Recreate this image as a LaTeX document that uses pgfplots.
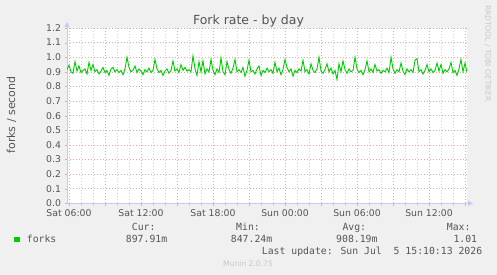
\documentclass[border=0pt]{standalone}
\usepackage{fontspec}
\setmainfont{DejaVu Sans}
\newfontfamily\monofont{DejaVu Sans Mono}
\usepackage{pgfplots}
\pgfplotsset{compat=1.18}
\usetikzlibrary{arrows.meta}
\definecolor{bgc}{HTML}{F0F0F0}
\definecolor{txt}{HTML}{555555}
\definecolor{mgrid}{HTML}{E6A8A8}
\definecolor{ngrid}{HTML}{D0D0D0}
\definecolor{axc}{HTML}{C8C8F4}
\definecolor{lgreen}{HTML}{00CC00}
\definecolor{wm}{HTML}{C8C8C8}
\begin{document}
\begin{tikzpicture}[x=1pt,y=1pt]
\fill[bgc] (0,0) rectangle (497,275);
\path[use as bounding box] (0,0) rectangle (497,275);
\begin{axis}[at={(67pt,71.7pt)}, anchor=south west, scale only axis,
  width=400pt, height=175.3pt,
  xmin=35, xmax=235, ymin=0, ymax=1.2, enlargelimits=false,
  axis background/.style={fill=white},
  axis lines=left,
  axis line style={draw=axc, line width=0.8pt, -{Triangle[length=5pt,width=5pt]}, shorten >=-6pt},
  xtick={36,54,...,234},
  xticklabels={Sat 06:00,,Sat 12:00,,Sat 18:00,,Sun 00:00,,Sun 06:00,,Sun 12:00,},
  minor x tick num=2,
  ytick={0,0.1,0.2,0.3,0.4,0.5,0.6,0.7,0.8,0.9,1.0,1.1,1.2},
  yticklabel={\pgfmathprintnumber[fixed,fixed zerofill,precision=1]{\tick}},
  /pgf/number format/assume math mode=true,
  xmajorgrids, ymajorgrids, xminorgrids,
  major grid style={draw=mgrid, dash pattern=on 1pt off 2pt, line width=0.6pt},
  minor grid style={draw=ngrid, dash pattern=on 1pt off 2pt, line width=0.6pt},
  tick align=outside, major tick length=2.5pt, minor tick length=2.5pt,
  every major tick/.append style={draw=mgrid},
  every minor tick/.append style={draw=ngrid},
  ticklabel style={font=\fontsize{9.3}{11}\selectfont, text=txt},
]
\addplot[lgreen, line width=0.9pt] coordinates {
(35,0.915)(36,0.945)(37,0.900)(38,0.890)(39,0.970)(40,0.905)(41,0.940)(42,0.895)(43,0.910)(44,0.920)
(45,0.885)(46,0.965)(47,0.910)(48,0.950)(49,0.900)(50,0.915)(51,0.885)(52,0.905)(53,0.930)(54,0.895)
(55,0.910)(56,0.875)(57,0.920)(58,0.930)(59,0.900)(60,0.915)(61,0.895)(62,0.910)(63,0.880)(64,0.920)
(65,1.000)(66,0.930)(67,0.900)(68,0.910)(69,0.940)(70,0.895)(71,0.920)(72,0.905)(73,0.880)(74,0.915)
(75,0.900)(76,0.925)(77,0.895)(78,0.910)(79,0.985)(80,0.920)(81,0.895)(82,0.910)(83,0.875)(84,0.905)
(85,0.920)(86,0.890)(87,0.910)(88,0.975)(89,0.905)(90,0.920)(91,0.895)(92,0.950)(93,0.910)(94,0.930)
(95,0.905)(96,0.915)(97,0.900)(98,1.010)(99,0.920)(100,0.875)(101,0.970)(102,0.900)(103,0.975)(104,0.885)
(105,0.920)(106,0.900)(107,0.985)(108,0.910)(109,0.880)(110,0.920)(111,0.895)(112,0.995)(113,0.900)(114,0.880)
(115,0.970)(116,0.915)(117,0.890)(118,0.925)(119,0.985)(120,0.900)(121,0.915)(122,0.895)(123,0.930)(124,0.870)
(125,0.910)(126,0.980)(127,0.900)(128,0.910)(129,0.885)(130,0.920)(131,0.940)(132,0.875)(133,0.910)(134,0.895)
(135,0.925)(136,0.900)(137,0.915)(138,0.890)(139,0.965)(140,0.900)(141,0.925)(142,0.880)(143,0.915)(144,0.985)
(145,0.930)(146,0.900)(147,0.920)(148,0.870)(149,0.910)(150,0.895)(151,0.920)(152,0.905)(153,0.980)(154,0.900)
(155,0.915)(156,0.885)(157,0.955)(158,0.910)(159,0.895)(160,0.920)(161,1.000)(162,0.905)(163,0.890)(164,0.915)
(165,0.955)(166,0.900)(167,0.925)(168,0.885)(169,0.910)(170,0.847)(171,0.955)(172,0.900)(173,0.975)(174,0.915)
(175,0.890)(176,0.920)(177,0.900)(178,0.910)(179,1.000)(180,0.920)(181,0.895)(182,0.910)(183,0.880)(184,0.915)
(185,0.975)(186,0.900)(187,0.920)(188,0.895)(189,0.950)(190,0.905)(191,0.915)(192,0.890)(193,0.910)(194,0.900)
(195,0.925)(196,0.895)(197,1.000)(198,0.920)(199,0.890)(200,0.915)(201,0.900)(202,0.960)(203,0.905)(204,0.880)
(205,0.920)(206,0.900)(207,0.915)(208,0.895)(209,0.980)(210,0.990)(211,0.900)(212,0.915)(213,0.885)(214,0.910)
(215,0.950)(216,0.900)(217,0.920)(218,0.895)(219,0.910)(220,0.960)(221,0.905)(222,0.950)(223,0.890)(224,0.915)
(225,0.900)(226,0.920)(227,0.965)(228,0.895)(229,0.910)(230,0.875)(231,0.920)(232,0.985)(233,0.900)(234,0.960)
(235,0.898)
};
\end{axis}
\node[inner sep=0, anchor=base, font=\fontsize{12.5}{14}\selectfont, text=txt] at (248.5,250) {Fork rate - by day};
\node[inner sep=0, anchor=base, rotate=90, font=\fontsize{11}{13}\selectfont, text=txt] at (15,160) {forks / second};
\begin{scope}[every node/.style={inner sep=0, anchor=base west, font=\monofont\fontsize{9.8}{11}\selectfont, text=txt}]
\node at (131.7,44.3) {Cur:};
\node at (236,44.3) {Min:};
\node at (342.3,44.3) {Avg:};
\node at (446.7,44.3) {Max:};
\node at (26.7,32.3) {forks};
\node at (125.7,32.3) {897.91m};
\node at (230.7,32.3) {847.24m};
\node at (336,32.3) {908.19m};
\node at (453.3,32.3) {1.01};
\node at (261.7,20) {Last update: Sun Jul\ \ 5 15:10:13 2026};
\end{scope}
\fill[lgreen] (14,32.7) rectangle (20,38.3);
\node[inner sep=0, anchor=base west, font=\fontsize{7.6}{9}\selectfont, text=wm] at (223,8.3) {Munin 2.0.75};
\node[inner sep=0, anchor=west, rotate=-90, font=\fontsize{7.5}{9}\selectfont, text=wm] at (487.7,270) {RRDTOOL / TOBI OETIKER};
\end{tikzpicture}
\end{document}
